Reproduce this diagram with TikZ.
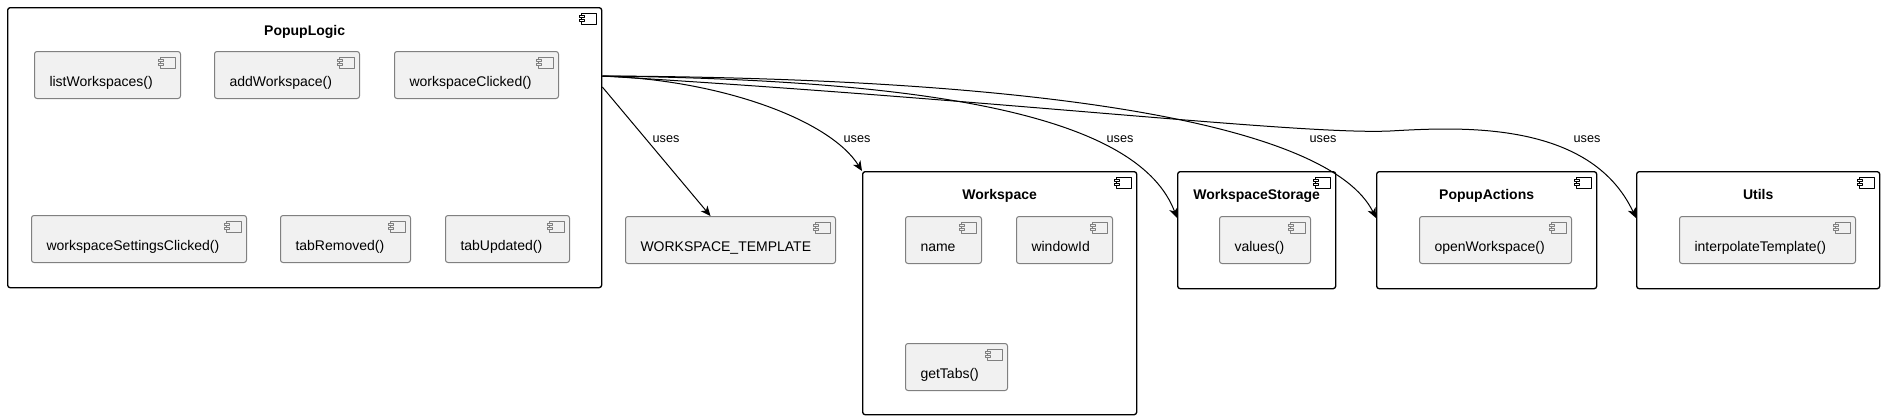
\documentclass[tikz,border=0pt]{standalone}
\usepackage{fontspec}
\setmainfont{Liberation Sans}
\usetikzlibrary{arrows.meta}
\definecolor{fnfill}{HTML}{F1F1F1}
\definecolor{fnline}{HTML}{808080}

\begin{document}
\begin{tikzpicture}[
  x=0.75pt,
  y=-0.75pt,
  line join=round,
  icon/.style 2 args={path picture={
    \draw[#1,fill=#2,line width=0.6pt,sharp corners]
      ([shift={(-20,6)}]path picture bounding box.north east) rectangle ++(15,11);
    \draw[#1,fill=#2,line width=0.6pt,sharp corners]
      ([shift={(-22,8)}]path picture bounding box.north east) rectangle ++(5,2);
    \draw[#1,fill=#2,line width=0.6pt,sharp corners]
      ([shift={(-22,12)}]path picture bounding box.north east) rectangle ++(5,2);
  }},
  comp/.style={draw=black,fill=white,line width=1pt,rounded corners=1.9pt,
    anchor=north west,inner sep=0pt,icon={black}{white}},
  title/.style={anchor=base,font=\bfseries\fontsize{10.5}{12}\selectfont},
  fn/.style={draw=fnline,fill=fnfill,line width=0.75pt,rounded corners=1.9pt,
    anchor=north west,inner xsep=11.25pt,align=left,minimum height=35.25pt,
    text height=20.25pt,text depth=3pt,font=\fontsize{10.5}{12}\selectfont,
    icon={fnline}{fnfill}},
  uses/.style={draw=black,line width=0.75pt,
    -{Stealth[length=7.5pt,width=6.5pt,inset=2.2pt]}},
  lbl/.style={font=\fontsize{9.5}{11}\selectfont,inner sep=1pt}
]
  % Keep the frame of the original export.
  \useasboundingbox (0,0) rectangle (1884,419);

  % PopupLogic and its functions.
  \node[comp,minimum width=445.5pt,minimum height=210pt] (logic) at (7,7) {};
  \node[title] (logicT) at ([yshift=-21pt]logic.north) {PopupLogic};
  \node[fn,text width=87pt] (list) at (34,51) {listWorkspaces()};
  \node[fn,text width=86.25pt] (add) at (214,51) {addWorkspace()};
  \node[fn,text width=100.5pt] (clicked) at (394,51) {workspaceClicked()};
  \node[fn,text width=138.75pt] (settings) at (31,215) {workspaceSettingsClicked()};
  \node[fn,text width=75pt] (removed) at (280,215) {tabRemoved()};
  \node[fn,text width=70.5pt] (updated) at (445,215) {tabUpdated()};

  % Stand-alone constant.
  \node[fn,text width=135pt] (tmpl) at (625,216) {WORKSPACE\_TEMPLATE};

  % Workspace.
  \node[comp,minimum width=205.5pt,minimum height=182.25pt] (ws) at (862,171) {};
  \node[title] (wsT) at ([yshift=-21pt]ws.north) {Workspace};
  \node[fn,text width=34.5pt] (name) at (905,216) {name};
  \node[fn,text width=49.5pt] (winid) at (1016,216) {windowId};
  \node[fn,text width=54pt] (gettabs) at (905,343) {getTabs()};

  % WorkspaceStorage, PopupActions, Utils.
  \node[comp,minimum width=118.5pt,minimum height=87.75pt] (store) at (1177,171) {};
  \node[title] (storeT) at ([yshift=-21pt]store.north) {WorkspaceStorage};
  \node[fn,text width=45.75pt] (values) at (1219,216) {values()};

  \node[comp,minimum width=165pt,minimum height=87.75pt] (actions) at (1376,171) {};
  \node[title] (actionsT) at ([yshift=-21pt]actions.north) {PopupActions};
  \node[fn,text width=91.5pt] (open) at (1419,216) {openWorkspace()};

  \node[comp,minimum width=182.25pt,minimum height=87.75pt] (utils) at (1636,171) {};
  \node[title] (utilsT) at ([yshift=-21pt]utils.north) {Utils};
  \node[fn,text width=109.5pt] (interp) at (1679,216) {interpolateTemplate()};

  % Dependencies leaving PopupLogic.
  \coordinate (src) at ([yshift=-51.75pt]logic.north east);
  \coordinate (src2) at ([yshift=-60pt]logic.north east);
  \coordinate (bend) at (1390,131);

  \draw[uses] (src2) -- ([xshift=-15pt]tmpl.north);
  \draw[uses] (src) .. controls +(119,4) and +(-32,-51) .. (ws.north west);
  \draw[uses] (src) .. controls +(349,4) and +(-37,-98)
    .. ([yshift=-35.25pt]store.north west);
  \draw[uses] (src) .. controls +(449,2) and +(-46,-93)
    .. ([yshift=-35.25pt]actions.north west);
  \draw[uses] (src) .. controls +(399,24) and +(-90,4) .. (bend)
    .. controls +(70,-4) and +(-46,-98) .. ([yshift=-35.25pt]utils.north west);

  \node[lbl] (u1) at (666,139) {uses};
  \node[lbl] (u2) at (857,139) {uses};
  \node[lbl] (u3) at (1120,139) {uses};
  \node[lbl] (u4) at (1323,139) {uses};
  \node[lbl] (u5) at (1587,139) {uses};
\end{tikzpicture}
\end{document}
